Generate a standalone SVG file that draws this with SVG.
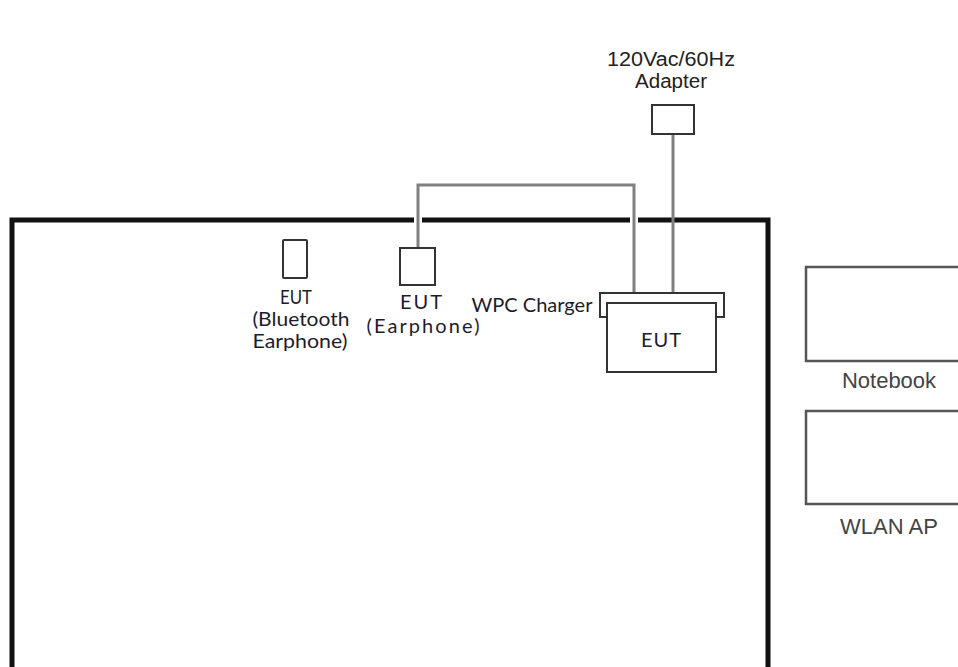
<svg xmlns="http://www.w3.org/2000/svg" width="958" height="667" viewBox="0 0 958 667">
<style>
.box{fill:#fff;stroke:#333;stroke-width:2}
.gbox{fill:#fff;stroke:#555;stroke-width:2.5}
.lbl{font-family:"Liberation Sans",Arial,sans-serif;fill:#222;text-anchor:middle}
.cal{font-family:Lato,"Liberation Sans",Arial,sans-serif;fill:#1c1c2c;text-anchor:middle;font-size:20px}
.glbl{font-family:"Liberation Sans",Arial,sans-serif;fill:#444;font-size:22px;text-anchor:middle}
.wire{fill:none;stroke:#808080;stroke-width:3}
.halo{fill:none;stroke:#fff;stroke-width:8}
</style>
<rect width="958" height="667" fill="#fff"/>
<g id="table">
<rect x="12" y="220" width="756" height="470" fill="none" stroke="#111" stroke-width="5"/>
</g>
<g id="connectors">
<path class="halo" d="M418,248 V185 H634 V293"/>
<path class="wire" d="M418,248 V185 H634 V293"/>
<path class="wire" d="M673,134 V293"/>
</g>
<g id="adapter">
<text class="lbl" x="671" y="66" font-size="20" textLength="128" lengthAdjust="spacingAndGlyphs">120Vac/60Hz</text>
<text class="lbl" x="671" y="88" font-size="20" textLength="72" lengthAdjust="spacingAndGlyphs">Adapter</text>
<rect class="box" x="652" y="105" width="42" height="29"/>
</g>
<g id="eut-bluetooth">
<rect class="box" x="283" y="240" width="24" height="38" rx="1"/>
<text class="cal" x="296" y="304" textLength="32" lengthAdjust="spacingAndGlyphs">EUT</text>
<text class="cal" x="301" y="326" textLength="97" lengthAdjust="spacingAndGlyphs">(Bluetooth</text>
<text class="cal" x="300" y="348" textLength="95" lengthAdjust="spacingAndGlyphs">Earphone)</text>
</g>
<g id="eut-earphone">
<rect class="box" x="400" y="248" width="35" height="37"/>
<text class="cal" x="421" y="309" textLength="42">EUT</text>
<text class="cal" x="423" y="333" textLength="113">(Earphone)</text>
</g>
<g id="wpc-charger">
<text class="cal" x="532" y="312" textLength="121" lengthAdjust="spacingAndGlyphs">WPC Charger</text>
<rect class="box" x="600" y="293" width="124" height="24"/>
</g>
<g id="eut-phone">
<rect class="box" x="607" y="303" width="109" height="69"/>
<text class="cal" x="661" y="347" textLength="40">EUT</text>
</g>
<g id="notebook">
<rect class="gbox" x="806" y="267" width="170" height="94"/>
<text class="glbl" x="889" y="388">Notebook</text>
</g>
<g id="wlan-ap">
<rect class="gbox" x="806" y="411" width="170" height="93"/>
<text class="glbl" x="889" y="534">WLAN AP</text>
</g>
</svg>
